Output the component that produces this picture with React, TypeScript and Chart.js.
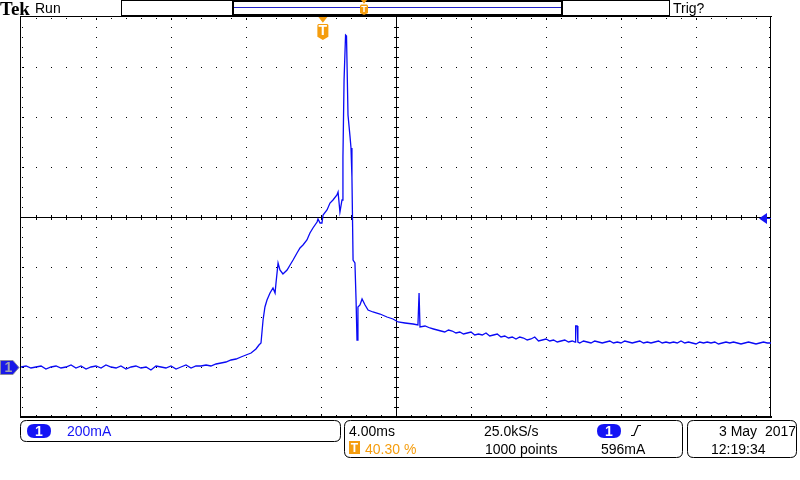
import React, { useEffect, useRef } from "react";
import { Chart, registerables } from "chart.js";

Chart.register(...registerables);

// Time (ms from left edge of screen, 4 ms/div) and current (mA, 200 mA/div)
const timeMs: number[] = [
  0.0, 0.27, 0.53, 0.8, 1.07, 1.33, 1.6, 1.87, 2.13, 2.4, 2.67, 2.93, 3.2, 3.47, 3.73, 4.0,
  4.27, 4.53, 4.8, 5.07, 5.33, 5.6, 5.87, 6.13, 6.4, 6.67, 6.93, 7.2, 7.47, 7.73, 8.0, 8.27,
  8.53, 8.8, 9.07, 9.33, 9.6, 9.87, 10.13, 10.4, 10.67, 10.93, 11.2, 11.47, 11.73, 12.0, 12.27,
  12.53, 12.69, 12.8, 12.91, 13.01, 13.12, 13.28, 13.44, 13.55, 13.6, 13.71, 13.81, 13.97,
  14.19, 14.35, 14.51, 14.72, 14.88, 15.04, 15.25, 15.41, 15.57, 15.79, 15.84, 15.95, 16.05,
  16.11, 16.32, 16.48, 16.64, 16.85, 16.91, 17.01, 17.12, 17.17, 17.23, 17.31, 17.36, 17.44,
  17.55, 17.6, 17.65, 17.71, 17.81, 17.87, 17.92, 17.97, 18.08, 18.19, 18.35, 18.51, 18.77,
  19.15, 19.52, 19.84, 20.11, 20.48, 20.91, 21.17, 21.23, 21.28, 21.55, 21.81,
  22.0, 22.2, 22.4, 22.6, 22.8, 23.0, 23.2, 23.4, 23.6, 23.8, 24.0, 24.2, 24.4, 24.6, 24.8,
  25.0, 25.2, 25.4, 25.6, 25.8, 26.0, 26.2, 26.4, 26.6, 26.8, 27.0, 27.2, 27.4, 27.6, 27.8,
  28.0, 28.2, 28.4, 28.6, 28.8, 29.0, 29.2, 29.4, 29.55, 29.58, 29.66, 29.7, 29.8, 30.0,
  30.2, 30.4, 30.6, 30.8, 31.0, 31.2, 31.4, 31.6, 31.8, 32.0, 32.2, 32.4, 32.6, 32.8, 33.0,
  33.2, 33.4, 33.6, 33.8, 34.0, 34.2, 34.4, 34.6, 34.8, 35.0, 35.2, 35.4, 35.6, 35.8, 36.0,
  36.2, 36.4, 36.6, 36.8, 37.0, 37.2, 37.4, 37.6, 37.8, 38.0, 38.2, 38.4, 38.6, 38.8, 39.0,
  39.2, 39.4, 39.6, 39.8, 40.0,
];

const currentMa: number[] = [
  0, 4, -4, 0, 4, -8, 0, 4, -4, 0, 8, -4, 4, -8, 0, 4,
  -4, 8, 0, -4, 4, -8, 0, 4, -4, 0, -12, 4, 0, -4, 4, -8,
  0, 8, -4, 4, 4, 8, 4, 12, 16, 20, 28, 32, 40, 48, 56,
  72, 88, 96, 188, 240, 268, 296, 316, 296, 336, 416, 388, 372,
  388, 408, 428, 456, 476, 488, 508, 536, 556, 580, 592, 576, 576,
  608, 628, 656, 668, 688, 700, 620, 668, 840, 1148, 1328, 1324, 1008,
  920, 876, 760, 428, 416, 268, 108, 240, 248, 272, 248, 228, 220,
  212, 200, 192, 180, 176, 172, 168, 296, 160, 164, 156,
  152, 148, 144, 140, 148, 144, 136, 140, 132, 136, 140, 128, 132, 128, 136,
  124, 128, 132, 120, 124, 116, 120, 112, 120, 116, 108, 112, 120, 104, 108,
  112, 104, 108, 100, 104, 108, 100, 104, 100, 164, 164, 100, 96, 104,
  100, 96, 104, 100, 96, 100, 104, 96, 100, 96, 104, 100, 96, 100, 104,
  96, 100, 96, 100, 104, 96, 100, 96, 100, 96, 104, 96, 100, 96, 92,
  100, 96, 100, 96, 100, 92, 96, 100, 96, 100, 96, 92, 96, 100, 96,
  92, 96, 100, 96, 96,
];

const xMin = 0;
const xMax = 40;
const yMin = -200;
const yMax = 1400;

const scaleText = "200mA";
const timebaseText = "4.00ms";
const triggerPosText = "40.30 %";
const sampleRateText = "25.0kS/s";
const pointsText = "1000 points";
const triggerLevelText = "596mA";
const dateText = "3 May  2017";
const timeText = "12:19:34";

const BLUE = "#1414f5";
const ORANGE = "#f59d0e";
const FONT = "'Liberation Sans', Arial, sans-serif";

function roundRect(ctx: CanvasRenderingContext2D, x: number, y: number, w: number, h: number, r: number) {
  ctx.beginPath();
  ctx.moveTo(x + r, y);
  ctx.lineTo(x + w - r, y);
  ctx.quadraticCurveTo(x + w, y, x + w, y + r);
  ctx.lineTo(x + w, y + h - r);
  ctx.quadraticCurveTo(x + w, y + h, x + w - r, y + h);
  ctx.lineTo(x + r, y + h);
  ctx.quadraticCurveTo(x, y + h, x, y + h - r);
  ctx.lineTo(x, y + r);
  ctx.quadraticCurveTo(x, y, x + r, y);
  ctx.closePath();
}

function drawTMarker(ctx: CanvasRenderingContext2D, cx: number, top: number, w: number, h: number) {
  ctx.fillStyle = ORANGE;
  ctx.beginPath();
  ctx.moveTo(cx - w / 2 + 1, top);
  ctx.lineTo(cx + w / 2 - 1, top);
  ctx.lineTo(cx, top + h * 0.25);
  ctx.closePath();
  ctx.fill();
  const sTop = top + h * 0.3;
  const sH = h * 0.7;
  ctx.beginPath();
  ctx.moveTo(cx - w / 2 + 1, sTop);
  ctx.lineTo(cx + w / 2 - 1, sTop);
  ctx.lineTo(cx + w / 2, sTop + 1);
  ctx.lineTo(cx + w / 2, sTop + sH * 0.8);
  ctx.lineTo(cx, sTop + sH);
  ctx.lineTo(cx - w / 2, sTop + sH * 0.8);
  ctx.lineTo(cx - w / 2, sTop + 1);
  ctx.closePath();
  ctx.fill();
  ctx.fillStyle = "#ffffff";
  ctx.font = `bold ${Math.round(sH * 0.85)}px ${FONT}`;
  ctx.textAlign = "center";
  ctx.textBaseline = "middle";
  ctx.fillText("T", cx, sTop + sH * 0.45);
}

const scopePlugin = {
  id: "scopeDecor",
  beforeDraw(chart: any) {
    const ctx = chart.ctx as CanvasRenderingContext2D;
    ctx.save();
    ctx.fillStyle = "#ffffff";
    ctx.fillRect(0, 0, chart.width, chart.height);
    ctx.restore();
  },
  beforeDatasetsDraw(chart: any) {
    const ctx = chart.ctx as CanvasRenderingContext2D;
    const xs = chart.scales.x;
    const ys = chart.scales.y;
    const L = Math.round(xs.getPixelForValue(xMin));
    const R = Math.round(xs.getPixelForValue(xMax));
    const T = Math.round(ys.getPixelForValue(yMax));
    const B = Math.round(ys.getPixelForValue(yMin));
    const dx = (R - L) / 10;
    const dy = (B - T) / 8;
    const cxp = Math.round(xs.getPixelForValue(20));
    const cyp = Math.round(ys.getPixelForValue(600));
    ctx.save();
    ctx.fillStyle = "#000000";
    for (let i = 1; i < 10; i++) {
      if (i === 5) continue;
      const x = Math.round(L + i * dx);
      for (let k = 1; k < 40; k++) ctx.fillRect(x, Math.round(T + k * (dy / 5)), 1, 1);
    }
    for (let j = 1; j < 8; j++) {
      if (j === 4) continue;
      const y = Math.round(T + j * dy);
      for (let k = 1; k < 50; k++) ctx.fillRect(Math.round(L + k * (dx / 5)), y, 1, 1);
    }
    ctx.fillRect(L, cyp, R - L, 1);
    ctx.fillRect(cxp, T, 1, B - T);
    for (let k = 1; k < 50; k++) {
      const x = Math.round(L + k * (dx / 5));
      ctx.fillRect(x, cyp - 2, 1, 5);
      const major = k % 5 === 0;
      ctx.fillRect(x, T + 1, 1, major ? 2 : 1);
      ctx.fillRect(x, B - (major ? 3 : 2), 1, major ? 2 : 1);
    }
    for (let k = 1; k < 40; k++) {
      const y = Math.round(T + k * (dy / 5));
      ctx.fillRect(cxp - 2, y, 5, 1);
      const major = k % 5 === 0;
      ctx.fillRect(L + 1, y, major ? 2 : 1, 1);
      ctx.fillRect(R - (major ? 3 : 2), y, major ? 2 : 1, 1);
    }
    ctx.fillRect(L - 1, T - 1, R - L + 2, 1);
    ctx.fillRect(L - 1, B - 1, R - L + 2, 2);
    ctx.fillRect(L - 1, T - 1, 1, B - T + 1);
    ctx.fillRect(R - 1, T - 1, 1, B - T + 1);
    ctx.restore();
  },
  afterDraw(chart: any) {
    const ctx = chart.ctx as CanvasRenderingContext2D;
    const xs = chart.scales.x;
    const ys = chart.scales.y;
    const R = Math.round(xs.getPixelForValue(xMax));
    const T = Math.round(ys.getPixelForValue(yMax));
    ctx.save();
    ctx.textBaseline = "alphabetic";

    ctx.fillStyle = "#000";
    ctx.font = `bold 19px 'Liberation Serif', serif`;
    ctx.textAlign = "left";
    ctx.fillText("Tek", 0, 15);
    ctx.font = `14px ${FONT}`;
    ctx.fillText("Run", 35, 13);
    ctx.fillText("Trig?", 673, 13);

    ctx.strokeStyle = "#000";
    ctx.lineWidth = 1;
    ctx.strokeRect(121.5, 0.5, 548, 15);
    ctx.lineWidth = 2;
    ctx.strokeRect(233, 1, 329, 14);
    ctx.strokeStyle = "#2020c8";
    ctx.lineWidth = 1;
    ctx.beginPath();
    ctx.moveTo(234, 7.5);
    ctx.lineTo(561, 7.5);
    ctx.stroke();
    drawTMarker(ctx, 364, 0, 8, 15);

    drawTMarker(ctx, xs.getPixelForValue(16.1), T, 11, 23);

    const gy = Math.round(ys.getPixelForValue(0)) + 0.5;
    ctx.fillStyle = "#1a1ae8";
    ctx.strokeStyle = "#8a8aa0";
    ctx.lineWidth = 1;
    ctx.beginPath();
    ctx.moveTo(0.5, gy - 7);
    ctx.lineTo(13, gy - 7);
    ctx.lineTo(19, gy);
    ctx.lineTo(13, gy + 7);
    ctx.lineTo(0.5, gy + 7);
    ctx.closePath();
    ctx.fill();
    ctx.stroke();
    ctx.fillStyle = "#a0a0b0";
    ctx.font = `bold 14px ${FONT}`;
    ctx.textAlign = "center";
    ctx.textBaseline = "middle";
    ctx.fillText("1", 8.5, gy + 1);

    const ty = Math.round(ys.getPixelForValue(596)) + 0.5;
    ctx.fillStyle = BLUE;
    ctx.beginPath();
    ctx.moveTo(759, ty);
    ctx.lineTo(767, ty - 5.5);
    ctx.lineTo(767, ty + 5.5);
    ctx.closePath();
    ctx.fill();
    ctx.strokeStyle = BLUE;
    ctx.beginPath();
    ctx.moveTo(766, ty);
    ctx.lineTo(R, ty);
    ctx.stroke();

    ctx.strokeStyle = "#000";
    ctx.lineWidth = 1;
    roundRect(ctx, 20.5, 420.5, 320, 21, 6);
    ctx.stroke();
    roundRect(ctx, 344.5, 420.5, 338, 37, 6);
    ctx.stroke();
    roundRect(ctx, 687.5, 420.5, 109, 37, 6);
    ctx.stroke();

    const oval = (x: number, y: number) => {
      ctx.fillStyle = BLUE;
      roundRect(ctx, x, y, 24, 14, 7);
      ctx.fill();
      ctx.fillStyle = "#fff";
      ctx.font = `bold 14px ${FONT}`;
      ctx.textAlign = "center";
      ctx.textBaseline = "alphabetic";
      ctx.fillText("1", x + 12, y + 12);
    };
    oval(27, 424);
    oval(597, 424);

    ctx.textAlign = "left";
    ctx.textBaseline = "alphabetic";
    ctx.font = `14px ${FONT}`;
    ctx.fillStyle = BLUE;
    ctx.fillText(scaleText, 67, 436);
    ctx.fillStyle = "#000";
    ctx.fillText(timebaseText, 349, 436);
    ctx.fillText(sampleRateText, 484, 436);
    ctx.fillText(pointsText, 485, 454);
    ctx.fillText(triggerLevelText, 601, 454);
    ctx.fillText(dateText, 719, 436);
    ctx.fillText(timeText, 711, 454);
    ctx.fillStyle = ORANGE;
    ctx.fillText(triggerPosText, 365, 454);
    ctx.fillRect(349, 441, 11, 13);
    ctx.fillStyle = "#fff";
    ctx.font = `bold 12px ${FONT}`;
    ctx.textAlign = "center";
    ctx.fillText("T", 354.5, 452);

    ctx.strokeStyle = "#000";
    ctx.lineWidth = 1.2;
    ctx.beginPath();
    ctx.moveTo(631, 435.5);
    ctx.lineTo(634, 435.5);
    ctx.lineTo(638, 425.5);
    ctx.lineTo(641, 425.5);
    ctx.stroke();

    ctx.restore();
  },
};

export default function App() {
  const canvasRef = useRef<HTMLCanvasElement | null>(null);
  useEffect(() => {
    const canvas = canvasRef.current;
    if (!canvas) return;
    const points = timeMs.map((t, i) => ({ x: t, y: currentMa[i] }));
    const chart = new Chart(canvas, {
      type: "line",
      data: {
        datasets: [
          {
            data: points,
            borderColor: "#0a0af5",
            borderWidth: 1.3,
            pointRadius: 0,
            tension: 0,
            fill: false,
          },
        ],
      },
      options: {
        animation: false,
        responsive: false,
        devicePixelRatio: 1,
        layout: { padding: { left: 21, top: 17, right: 29, bottom: 63 } },
        plugins: { legend: { display: false }, tooltip: { enabled: false } },
        scales: {
          x: { type: "linear", min: xMin, max: xMax, display: false },
          y: { type: "linear", min: yMin, max: yMax, display: false },
        },
      },
      plugins: [scopePlugin],
    });
    return () => chart.destroy();
  }, []);
  return (
    <div style={{ position: "fixed", left: 0, top: 0, width: 800, height: 480, background: "#fff" }}>
      <canvas ref={canvasRef} width={800} height={480} style={{ width: 800, height: 480 }} />
    </div>
  );
}
